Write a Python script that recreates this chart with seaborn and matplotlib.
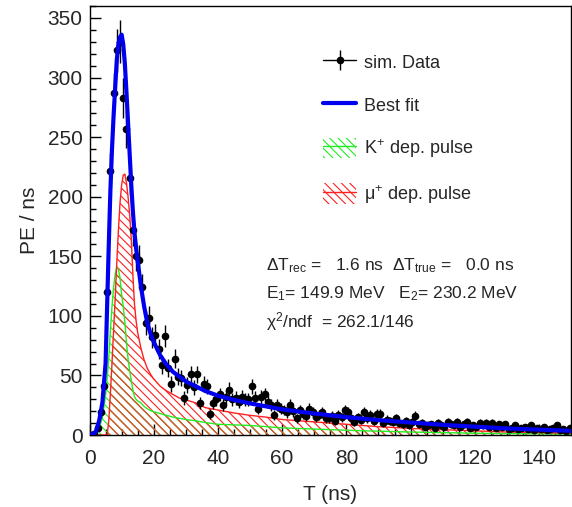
import numpy as np
import matplotlib
matplotlib.use('Agg')
import matplotlib.pyplot as plt
import seaborn as sns
from matplotlib.lines import Line2D
from matplotlib.patches import Patch
from matplotlib.legend_handler import HandlerErrorbar, HandlerTuple
from matplotlib.container import ErrorbarContainer
from matplotlib.ticker import MultipleLocator

# datos simulados (PE por ns), bins de 1 ns
t_bins = np.arange(0.5, 150, 1.0)
pe_data = [0, 1, 6, 19, 41, 120, 222, 287, 323, 330,
           283, 257, 216, 172, 150, 147, 124, 94, 98, 82,
           84, 72, 59, 83, 56, 43, 64, 49, 48, 31,
           42, 51, 40, 51, 27, 43, 41, 18, 27, 30,
           34, 25, 32, 38, 30, 31, 28, 32, 30, 30,
           41, 31, 22, 32, 34, 28, 25, 17, 25, 22,
           21, 19, 25, 20, 14, 21, 18, 16, 22, 19,
           15, 17, 19, 14, 14, 16, 12, 17, 15, 21,
           19, 14, 11, 15, 13, 19, 14, 17, 12, 18,
           18, 10, 13, 12, 11, 14, 10, 9, 12, 8,
           11, 16, 9, 10, 7, 8, 9, 6, 10, 8,
           7, 11, 9, 8, 11, 7, 9, 11, 6, 8,
           7, 10, 8, 10, 7, 10, 6, 9, 7, 9,
           5, 6, 8, 5, 6, 7, 5, 8, 4, 6,
           5, 7, 4, 5, 6, 8, 4, 5, 3, 6]
pe_err = np.sqrt(pe_data)

# curvas del ajuste
t_fit = [0, 1, 2, 3, 4, 5, 5.5, 6, 6.5, 7, 7.5, 8, 8.5, 9, 9.5, 10, 10.5, 11, 11.5, 12,
         12.5, 13, 13.5, 14, 14.5, 15, 16, 17, 18, 19, 20, 22, 24, 26, 28, 30, 33, 36,
         40, 45, 50, 55, 60, 70, 80, 90, 100, 110, 120, 130, 140, 150]
best_fit = [0, 0.5, 3, 12, 27, 60, 110, 160, 205, 240, 268, 292, 315, 328, 334, 336, 328, 312, 288, 262,
            236, 210, 188, 170, 157, 146, 125, 108, 94, 85, 78, 67, 59, 53, 49, 45, 41, 37,
            33, 29.5, 26.5, 24, 21.5, 18, 15, 12.5, 10.5, 8.5, 7, 5.5, 4.5, 3.5]
mu_pulse = [0, 0, 0, 0, 0, 0, 0, 12, 35, 60, 88, 115, 145, 172, 195, 210, 218, 219, 212, 200,
            185, 165, 135, 110, 96, 86, 73, 63, 56, 51, 47, 41, 37, 34, 31, 29.5, 27, 23,
            21, 18.5, 16.5, 15, 13, 11, 9, 7, 5.5, 4.5, 3.5, 2.5, 2, 1.5]
k_pulse = [0, 0, 1, 5, 15, 33, 48, 65, 88, 108, 124, 135, 141, 139, 132, 118, 108, 95, 78, 64,
           54, 46, 38, 32, 30, 28.5, 27, 24, 22, 20.5, 19.5, 18, 16.5, 15, 14, 13, 12, 10.5,
           9, 8.5, 8, 7, 6, 5, 4, 3.2, 2.5, 2, 1.5, 1.2, 1, 0.8]

sns.set_theme(style='ticks')
plt.rcParams['font.family'] = ['Liberation Sans', 'DejaVu Sans']
plt.rcParams['mathtext.fontset'] = 'custom'
plt.rcParams['mathtext.rm'] = 'Liberation Sans'
plt.rcParams['mathtext.it'] = 'Liberation Sans:italic'
plt.rcParams['hatch.linewidth'] = 0.8

fig = plt.figure(figsize=(5.72, 5.07), dpi=100)
ax = fig.add_axes([0.1565, 0.142, 0.842, 0.846])

hatch = '\\\\\\\\'
verde = '#22ee22'
rojo = '#ff2020'
marron = '#c8642d'
azul = '#0000ee'

ax.fill_between(t_fit, 0, k_pulse, facecolor='none', edgecolor=verde, hatch=hatch, linewidth=0)
ax.fill_between(t_fit, 0, mu_pulse, facecolor='none', edgecolor=rojo, hatch=hatch, linewidth=0)
ax.fill_between(t_fit, 0, np.minimum(k_pulse, mu_pulse), facecolor='none', edgecolor=marron,
                hatch=hatch, linewidth=0)
sns.lineplot(x=t_fit, y=k_pulse, color=verde, lw=1, ax=ax)
sns.lineplot(x=t_fit, y=mu_pulse, color=rojo, lw=1, ax=ax)

datos = ax.errorbar(t_bins, pe_data, yerr=pe_err, fmt='o', color='black', ms=4.5,
                    elinewidth=1, capsize=0, zorder=4)
sns.lineplot(x=t_fit, y=best_fit, color=azul, lw=3, ax=ax, zorder=5)

ax.set_xlim(0, 150)
ax.set_ylim(0, 360)
ax.xaxis.set_major_locator(MultipleLocator(20))
ax.xaxis.set_minor_locator(MultipleLocator(5))
ax.yaxis.set_major_locator(MultipleLocator(50))
ax.yaxis.set_minor_locator(MultipleLocator(10))
ax.tick_params(which='both', direction='in', labelsize=15, color='black', width=1)
ax.tick_params(which='major', length=8)
ax.tick_params(axis='x', which='major', pad=10)
ax.tick_params(axis='y', which='major', pad=5)
ax.tick_params(which='minor', length=4)
for s in ax.spines.values():
    s.set_color('black')
    s.set_linewidth(1)
ax.set_xlabel('T (ns)', fontsize=15, labelpad=12)
ax.set_ylabel('PE / ns', fontsize=15, labelpad=6)

linea_neg = Line2D([], [], color='black', lw=1)
h_data = (linea_neg, datos)
h_k = (Patch(facecolor='none', edgecolor=verde, hatch=hatch, linewidth=0), Line2D([], [], color=verde, lw=1))
h_mu = (Patch(facecolor='none', edgecolor=rojo, hatch=hatch, linewidth=0), Line2D([], [], color=rojo, lw=1))
h_fit = Line2D([], [], color=azul, lw=3)
ax.legend([h_data, h_fit, h_k, h_mu],
          ['sim. Data', 'Best fit', 'K$^{+}$ dep. pulse', 'μ$^{+}$ dep. pulse'],
          handler_map={ErrorbarContainer: HandlerErrorbar(xerr_size=0.9, yerr_size=0.55),
                       tuple: HandlerTuple(ndivide=1, pad=0)},
          loc='upper left', bbox_to_anchor=(0.466, 0.914), frameon=False, fontsize=13,
          handlelength=1.85, handleheight=1.35, handletextpad=0.4, labelspacing=1.25, borderpad=0)

ax.text(0.366, 0.385, 'ΔT$_{\\rm rec}$ =   1.6 ns  ΔT$_{\\rm true}$ =   0.0 ns',
        transform=ax.transAxes, fontsize=12.5)
ax.text(0.366, 0.318, 'E$_{1}$= 149.9 MeV   E$_{2}$= 230.2 MeV',
        transform=ax.transAxes, fontsize=12.5)
ax.text(0.366, 0.25, 'χ$^{2}$/ndf  = 262.1/146',
        transform=ax.transAxes, fontsize=12.5)

fig.savefig('out.png', dpi=100)
